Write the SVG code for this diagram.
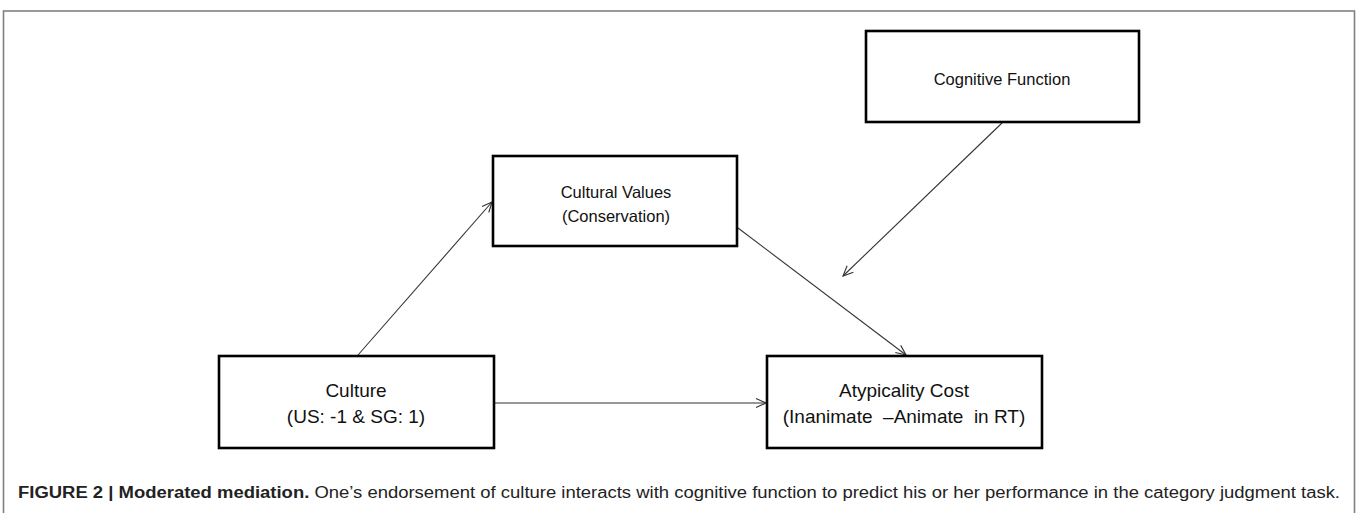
<svg xmlns="http://www.w3.org/2000/svg" width="1357" height="513" viewBox="0 0 1357 513">
<style>
.box{fill:#fff;stroke:#000;stroke-width:2.6}
.lbl{font-family:"Liberation Sans",Arial,sans-serif;font-size:19px;fill:#111;text-anchor:middle}
.sm{font-size:16.5px}
.con{stroke:#333;stroke-width:1.1;fill:none;marker-end:url(#arr)}
.cap{font-family:"Liberation Sans",Arial,sans-serif;font-size:16px;fill:#222}
</style>
<defs>
<marker id="arr" markerUnits="userSpaceOnUse" markerWidth="14" markerHeight="12" refX="11" refY="5" orient="auto">
<path d="M1,0.5 L11,5 L1,9.5" fill="none" stroke="#333" stroke-width="1.1"/>
</marker>
</defs>
<rect width="1357" height="513" fill="#fff"/>
<rect x="3.5" y="11" width="1351" height="520" fill="none" stroke="#808080" stroke-width="1.6"/>
<g id="connectors">
<line class="con" x1="358" y1="355" x2="492" y2="202"/>
<line class="con" x1="494" y1="403" x2="766" y2="403"/>
<line class="con" x1="738" y1="228" x2="906" y2="355"/>
<line class="con" x1="1002" y1="123" x2="843" y2="276"/>
</g>
<g id="cognitive-function">
<rect class="box" x="866" y="31" width="273" height="91"/>
<text class="lbl sm" x="1002" y="85">Cognitive Function</text>
</g>
<g id="cultural-values">
<rect class="box" x="493" y="156" width="244" height="90"/>
<text class="lbl sm" x="616" y="198">Cultural Values</text>
<text class="lbl sm" x="616" y="222">(Conservation)</text>
</g>
<g id="culture">
<rect class="box" x="219" y="356" width="275" height="92"/>
<text class="lbl" x="356" y="397">Culture</text>
<text class="lbl" x="356" y="423">(US: -1 &amp; SG: 1)</text>
</g>
<g id="atypicality-cost">
<rect class="box" x="767" y="356" width="275" height="92"/>
<text class="lbl" x="904" y="397">Atypicality Cost</text>
<text class="lbl" x="904" y="423" xml:space="preserve">(Inanimate  –Animate  in RT)</text>
</g>
<text class="cap" x="18" y="498" textLength="1322" lengthAdjust="spacingAndGlyphs"><tspan font-weight="bold">FIGURE 2 | Moderated mediation.</tspan> One’s endorsement of culture interacts with cognitive function to predict his or her performance in the category judgment task.</text>
</svg>
